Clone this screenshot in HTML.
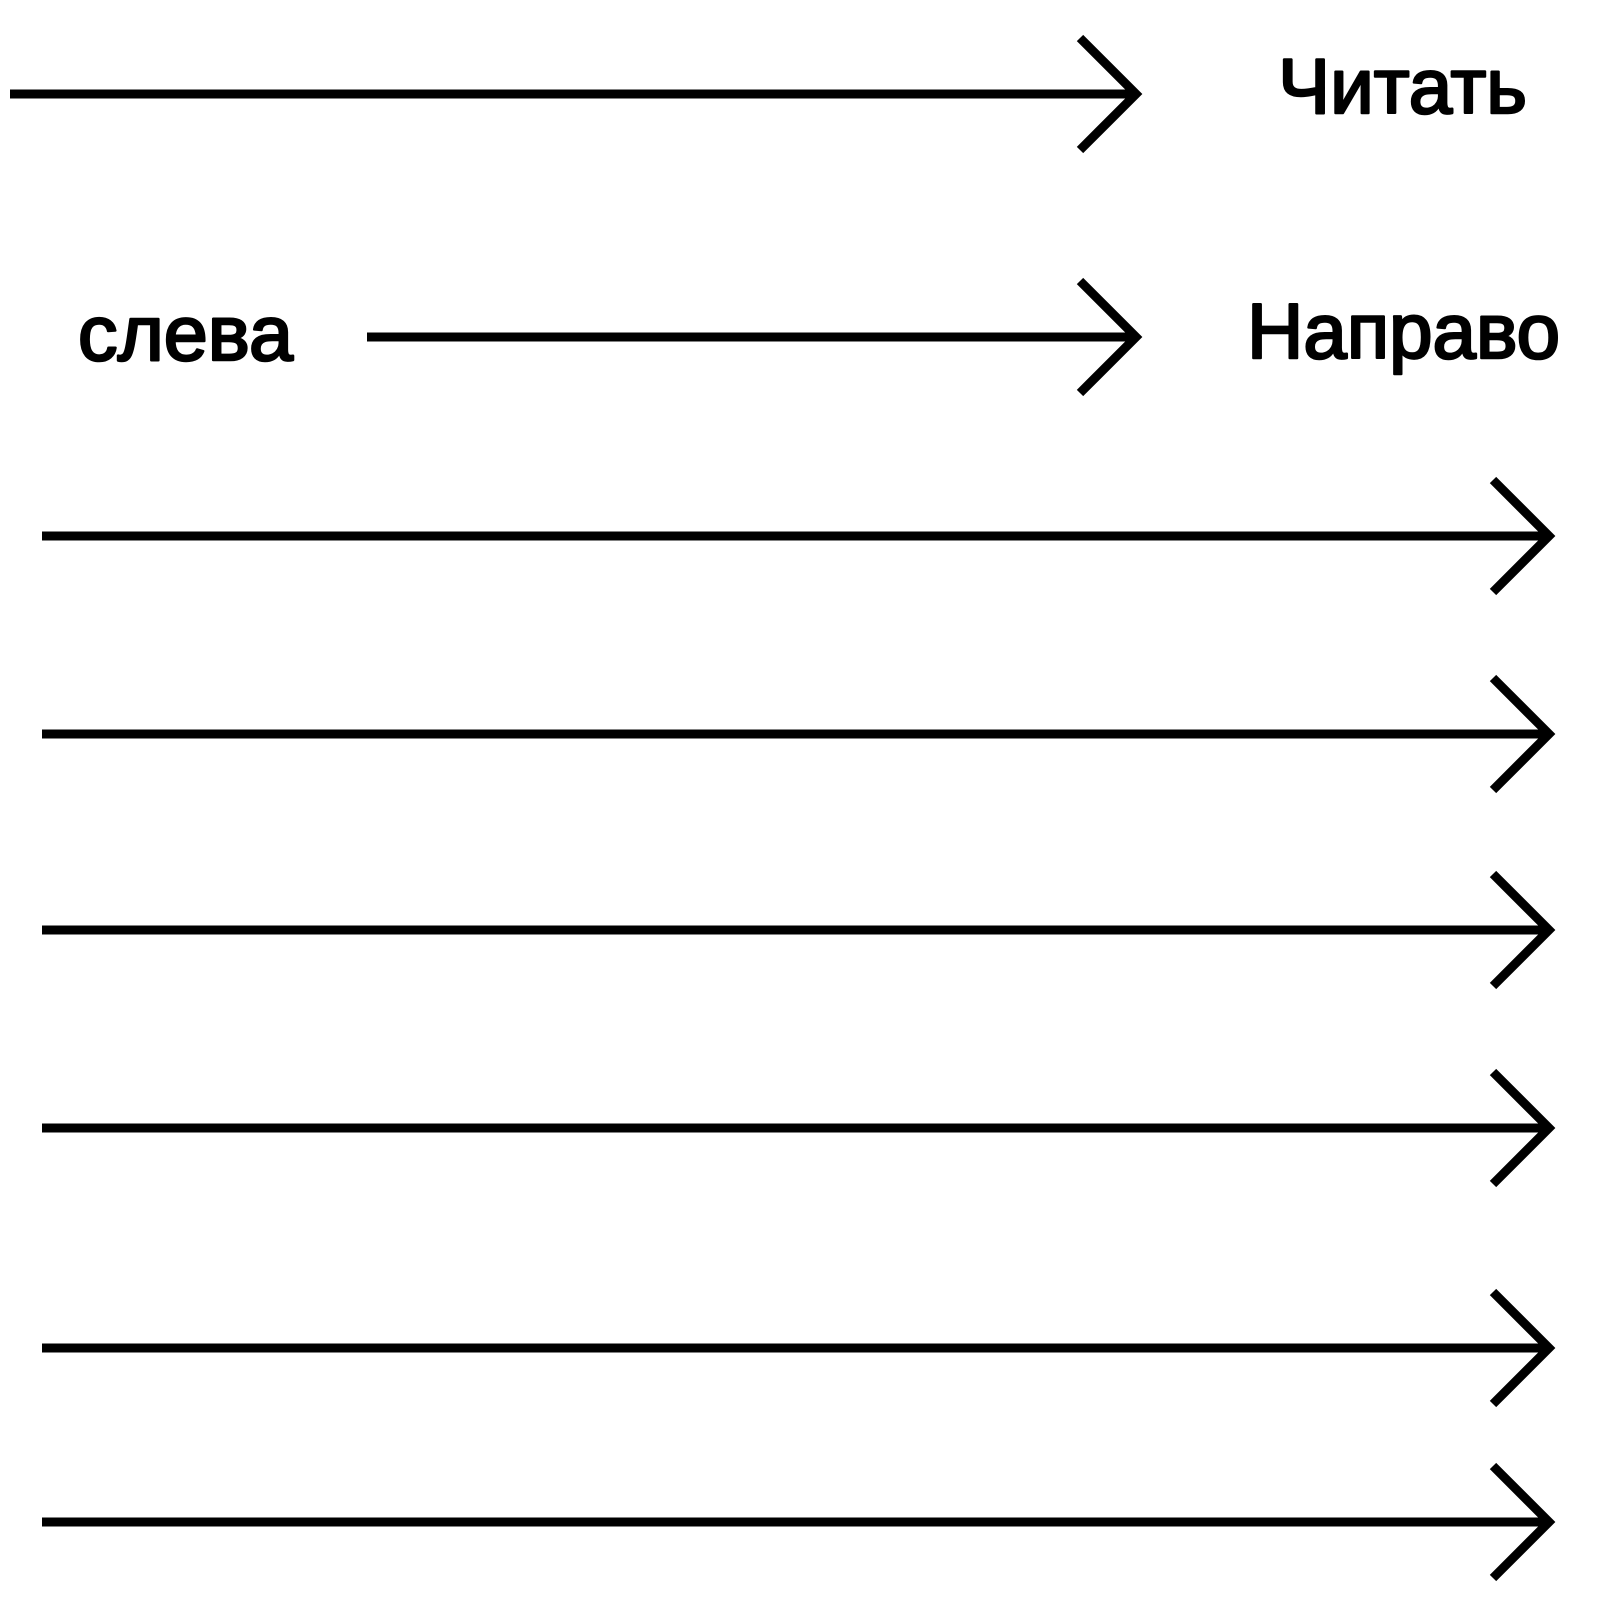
<!DOCTYPE html>
<html><head><meta charset="utf-8"><style>html,body{margin:0;padding:0;background:#fff}svg{display:block}</style></head>
<body>
<svg width="1620" height="1620" viewBox="0 0 1620 1620" xmlns="http://www.w3.org/2000/svg">
<g stroke="#000" stroke-width="9" fill="none">
<line x1="10" y1="94" x2="1134" y2="94"/>
<polyline points="1080,38 1136,94 1080,150"/>
<line x1="367" y1="337" x2="1134" y2="337"/>
<polyline points="1080,281 1136,337 1080,393"/>
<line x1="42" y1="536" x2="1548" y2="536"/><polyline points="1493,480 1549,536 1493,592"/>
<line x1="42" y1="734" x2="1548" y2="734"/><polyline points="1493,678 1549,734 1493,790"/>
<line x1="42" y1="930" x2="1548" y2="930"/><polyline points="1493,874 1549,930 1493,986"/>
<line x1="42" y1="1128" x2="1548" y2="1128"/><polyline points="1493,1072 1549,1128 1493,1184"/>
<line x1="42" y1="1348" x2="1548" y2="1348"/><polyline points="1493,1292 1549,1348 1493,1404"/>
<line x1="42" y1="1522" x2="1548" y2="1522"/><polyline points="1493,1466 1549,1522 1493,1578"/>
</g>
<g font-family="'Liberation Sans', sans-serif" font-size="78" fill="#000" stroke="#000" stroke-width="2.5" stroke-linejoin="round">
<text x="1278" y="113" textLength="249" lengthAdjust="spacingAndGlyphs">Читать</text>
<text x="1247" y="358" textLength="313" lengthAdjust="spacingAndGlyphs">Направо</text>
<text x="78" y="360" textLength="215" lengthAdjust="spacingAndGlyphs">слева</text>
</g>
</svg>
</body></html>
